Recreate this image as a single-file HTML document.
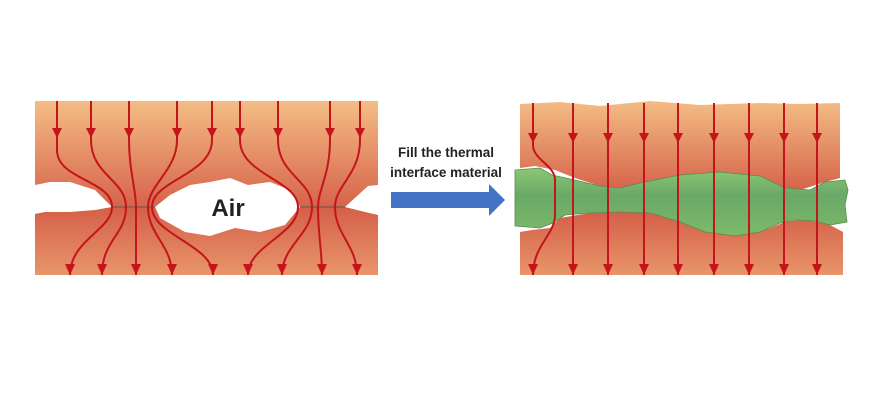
<!DOCTYPE html>
<html><head><style>
html,body{margin:0;padding:0;background:#fff;width:892px;height:409px;overflow:hidden}
</style></head><body>
<svg width="892" height="409" viewBox="0 0 892 409" xmlns="http://www.w3.org/2000/svg" font-family="Liberation Sans, sans-serif">
<defs>
<linearGradient id="gt" x1="0" y1="0" x2="0" y2="1"><stop offset="0" stop-color="#f4bd85"/><stop offset="1" stop-color="#d6634a"/></linearGradient>
<linearGradient id="gb" x1="0" y1="0" x2="0" y2="1"><stop offset="0" stop-color="#d45f48"/><stop offset="1" stop-color="#e8956a"/></linearGradient>
<linearGradient id="gg" x1="0" y1="0" x2="0" y2="1"><stop offset="0" stop-color="#8cc874"/><stop offset="0.4" stop-color="#6aa868"/><stop offset="1" stop-color="#7cba6a"/></linearGradient>
</defs>
<!-- LEFT -->
<path d="M35,101 L378,101 L378,185 L368,186 L345,207 L300,207 L290,190 L270,182 L248,185 L230,178 L210,182 L190,185 L170,195 L155,207 L112,207 L95,190 L70,182 L50,182 L35,185 Z" fill="url(#gt)"/>
<path d="M35,275 L378,275 L378,215 L365,212 L345,207 L300,207 L285,225 L260,232 L235,228 L210,236 L185,232 L160,218 L155,207 L112,207 L95,210 L70,212 L45,212 L35,214 Z" fill="url(#gb)"/>
<line x1="112" y1="207" x2="155" y2="207" stroke="#8a5a4a" stroke-width="1.5"/>
<line x1="300" y1="207" x2="345" y2="207" stroke="#8a5a4a" stroke-width="1.5"/>
<text x="228" y="216" font-size="24" font-weight="bold" fill="#222" text-anchor="middle">Air</text>
<g fill="none" stroke="#c4141c" stroke-width="2">
<path d="M57,101 L57,150 C57,180 112,180 112,207 C112,230 70,240 70,275"/>
<path d="M91,101 L91,140 C91,175 126,180 126,207 C126,235 102,240 102,275"/>
<path d="M129,101 L129,140 C129,170 136,190 136,207 C136,235 136,250 136,275"/>
<path d="M177,101 L177,140 C177,170 148,185 148,207 C148,235 172,245 172,275"/>
<path d="M212,101 L212,140 C212,175 152,180 152,207 C152,235 213,245 213,275"/>
<path d="M240,101 L240,140 C240,175 298,180 298,207 C298,235 248,245 248,275"/>
<path d="M278,101 L278,140 C278,175 312,180 312,207 C312,235 282,245 282,275"/>
<path d="M330,101 L330,140 C330,175 318,190 318,207 C318,235 322,250 322,275"/>
<path d="M360,101 L360,140 C360,175 335,185 335,207 C335,235 357,245 357,275"/>
</g>
<g fill="#c4141c">
<path d="M52,128 L62,128 L57,138Z"/><path d="M86,128 L96,128 L91,138Z"/><path d="M124,128 L134,128 L129,138Z"/><path d="M172,128 L182,128 L177,138Z"/><path d="M207,128 L217,128 L212,138Z"/><path d="M235,128 L245,128 L240,138Z"/><path d="M273,128 L283,128 L278,138Z"/><path d="M325,128 L335,128 L330,138Z"/><path d="M355,128 L365,128 L360,138Z"/>
<path d="M65,264 L75,264 L70,275Z"/><path d="M97,264 L107,264 L102,275Z"/><path d="M131,264 L141,264 L136,275Z"/><path d="M167,264 L177,264 L172,275Z"/><path d="M208,264 L218,264 L213,275Z"/><path d="M243,264 L253,264 L248,275Z"/><path d="M277,264 L287,264 L282,275Z"/><path d="M317,264 L327,264 L322,275Z"/><path d="M352,264 L362,264 L357,275Z"/>
</g>
<!-- text + arrow -->
<text x="446" y="157" font-size="13.5" font-weight="bold" fill="#222" text-anchor="middle">Fill the thermal</text>
<text x="446" y="177" font-size="13.5" font-weight="bold" fill="#222" text-anchor="middle">interface material</text>
<path d="M391,192 L489,192 L489,184 L505,200 L489,216 L489,208 L391,208 Z" fill="#4472c4"/>
<!-- RIGHT -->
<path d="M520,104 L560,102 L600,106 L650,101 L700,105 L760,103 L800,104 L840,103 L840,178 L825,182 L800,190 L785,190 L760,178 L730,175 L700,175 L660,180 L640,184 L620,188 L600,186 L575,178 L555,170 L535,166 L520,168 Z" fill="url(#gt)"/>
<path d="M520,275 L843,275 L843,232 L830,225 L820,222 L800,220 L785,222 L760,232 L740,235 L710,232 L680,222 L655,213 L620,212 L590,213 L560,218 L550,228 L532,230 L520,232 Z" fill="url(#gb)"/>
<path d="M515,170 L540,168 L552,175 L575,180 L600,186 L620,188 L640,183 L680,175 L720,172 L760,176 L785,188 L810,190 L825,182 L845,180 L848,190 L845,205 L847,222 L830,225 L815,221 L795,220 L780,223 L760,232 L735,236 L705,232 L680,222 L650,213 L620,212 L590,213 L565,215 L553,223 L540,228 L515,226 Z" fill="url(#gg)" stroke="#5a8a50" stroke-width="0.8"/>
<g fill="none" stroke="#c4141c" stroke-width="2">
<path d="M533,103 L533,145 C533,160 555,165 555,180 L555,215 C555,235 533,245 533,275"/>
<line x1="573" y1="103" x2="573" y2="275"/><line x1="608" y1="103" x2="608" y2="275"/><line x1="644" y1="103" x2="644" y2="275"/><line x1="678" y1="103" x2="678" y2="275"/><line x1="714" y1="103" x2="714" y2="275"/><line x1="749" y1="103" x2="749" y2="275"/><line x1="784" y1="103" x2="784" y2="275"/><line x1="817" y1="103" x2="817" y2="275"/>
</g>
<g fill="#c4141c">
<path d="M528,133 L538,133 L533,143Z"/><path d="M568,133 L578,133 L573,143Z"/><path d="M603,133 L613,133 L608,143Z"/><path d="M639,133 L649,133 L644,143Z"/><path d="M673,133 L683,133 L678,143Z"/><path d="M709,133 L719,133 L714,143Z"/><path d="M744,133 L754,133 L749,143Z"/><path d="M779,133 L789,133 L784,143Z"/><path d="M812,133 L822,133 L817,143Z"/>
<path d="M528,264 L538,264 L533,275Z"/><path d="M568,264 L578,264 L573,275Z"/><path d="M603,264 L613,264 L608,275Z"/><path d="M639,264 L649,264 L644,275Z"/><path d="M673,264 L683,264 L678,275Z"/><path d="M709,264 L719,264 L714,275Z"/><path d="M744,264 L754,264 L749,275Z"/><path d="M779,264 L789,264 L784,275Z"/><path d="M812,264 L822,264 L817,275Z"/>
</g>
</svg>
</body></html>
